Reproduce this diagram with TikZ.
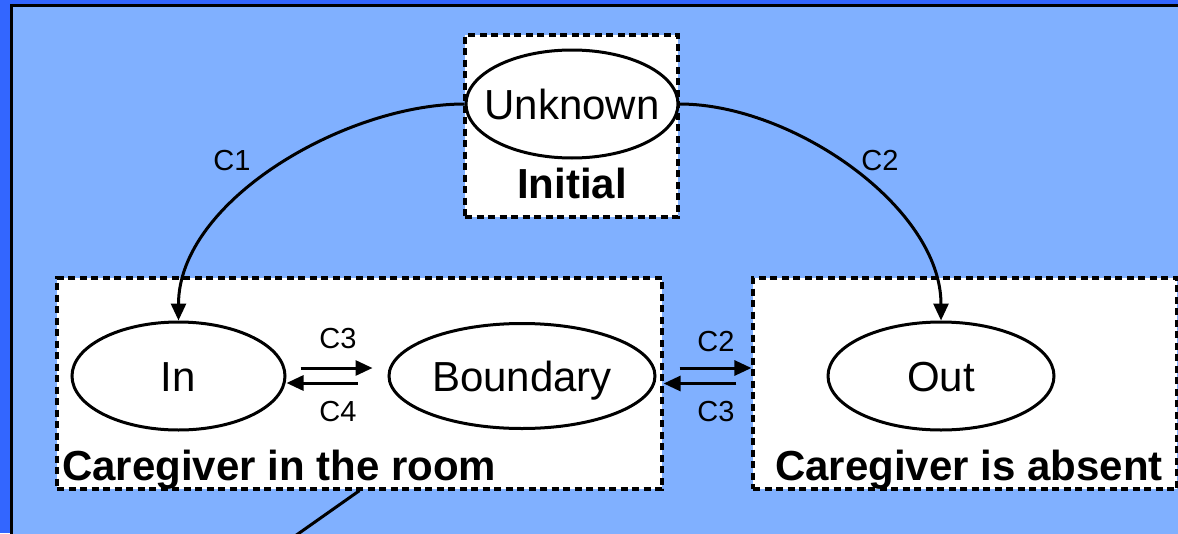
\documentclass[tikz,border=0pt]{standalone}
\usepackage{fontspec}
\setmainfont{Liberation Sans}
\usepackage{tikz}
\usetikzlibrary{shapes.geometric}
\usetikzlibrary{arrows.meta}

\definecolor{slideblue}{RGB}{51,102,255}
\definecolor{paneblue}{RGB}{128,176,255}

\begin{document}
\begin{tikzpicture}[x=1pt, y=-1pt,
    >={Triangle[length=17pt, width=15pt]},
    state/.style={ellipse, draw=black, line width=3pt, fill=white, inner sep=0pt,
        label={[font=\fontsize{42}{48}\selectfont, text height=30pt, text depth=0pt, inner sep=0pt]center:#1}},
    groupbox/.style={rectangle, draw=black, line width=3.2pt, dash pattern=on 7pt off 4.5pt, fill=white, inner sep=0pt},
    grouptitle/.style={font=\fontsize{42}{48}\selectfont\bfseries, inner sep=0pt},
    cond/.style={font=\fontsize{29}{34}\selectfont, inner sep=0pt},
    trans/.style={->, line width=3pt}]

    % slide background
    \useasboundingbox (0,0) rectangle (1178,533);
    \clip (0,0) rectangle (1178,533);
    \fill[slideblue] (0,0) rectangle (1178,533);
    \filldraw[fill=paneblue, draw=black, line width=3pt] (11.5,5.5) rectangle (1220,580);

    % groups of states
    \node [groupbox, minimum width=213, minimum height=182] (initbox) at (571.5,126) {};
    \node [groupbox, minimum width=605, minimum height=211] (roomBox) at (359.5,383.5) {};
    \node [groupbox, minimum width=424, minimum height=211] (absentBox) at (965,383.5) {};

    \node [grouptitle] (initTitle) at (572,183) {Initial};
    \node [grouptitle, anchor=base west] (roomTitle) at (62,480) {Caregiver in the room};
    \node [grouptitle, anchor=base west] (absentTitle) at (775,480) {Caregiver is absent};

    % states
    \node [state=Unknown, minimum width=212, minimum height=108] (unknown) at (572,104) {};
    \node [state=In, minimum width=213, minimum height=108] (in) at (178.5,376) {};
    \node [state=Boundary, minimum width=266, minimum height=105] (boundary) at (522,376) {};
    \node [state=Out, minimum width=226, minimum height=108] (out) at (941,376) {};

    % transitions
    \draw [trans] (unknown.west) to[out=180, in=90, looseness=0.85] (in.north);
    \draw [trans] (unknown.east) to[out=0, in=90, looseness=0.85] (out.north);
    \draw [trans] ([xshift=14pt, yshift=8pt]in.east) -- ([xshift=-15pt, yshift=8pt]boundary.west);
    \draw [trans] ([xshift=-30pt, yshift=-7pt]boundary.west) -- ([yshift=-7pt]in.east);
    \draw [trans] ([xshift=16pt, yshift=15.5pt]roomBox.east) -- ([yshift=15.5pt]absentBox.west);
    \draw [trans] ([xshift=-15pt]absentBox.west) -- (roomBox.east);

    \node [cond] (c1) at (232,161) {C1};
    \node [cond] (c2top) at (880,161) {C2};
    \node [cond] (c3in) at (338,339) {C3};
    \node [cond] (c4in) at (338,412) {C4};
    \node [cond] (c2out) at (716,342) {C2};
    \node [cond] (c3out) at (716,412) {C3};

    % pointer leaving the room box
    \coordinate (pointer) at (251,567);
    \draw [line width=3pt] (roomBox.south) -- (pointer);
\end{tikzpicture}
\end{document}
